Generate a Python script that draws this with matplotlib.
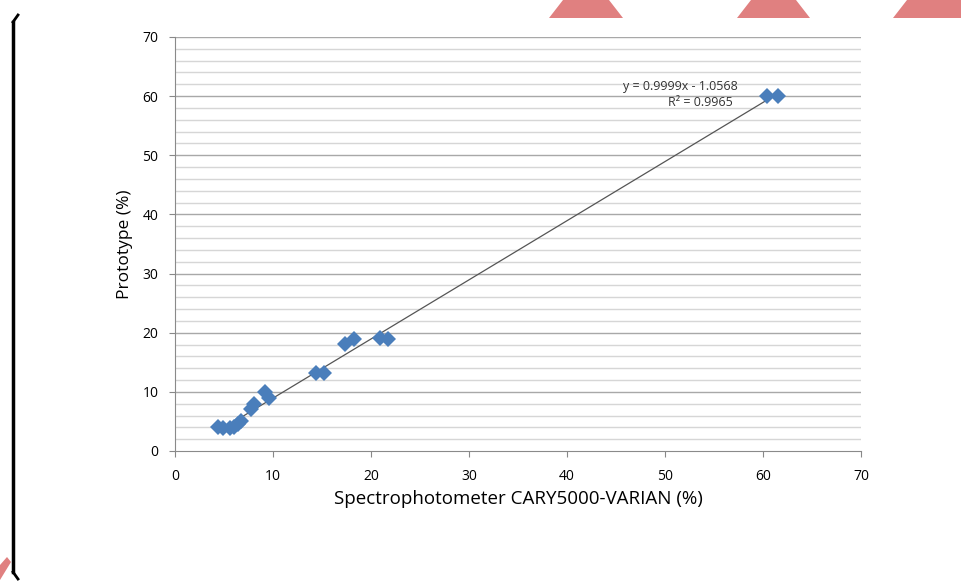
import numpy as np
import matplotlib.pyplot as plt
from matplotlib.patches import Polygon
from matplotlib.lines import Line2D

# Data
cary = [4.4, 4.9, 5.6, 6.0, 6.4, 6.7, 7.8, 8.1, 9.2, 9.6,
        14.4, 15.2, 17.3, 18.3, 20.9, 21.7, 60.4, 61.5]
proto = [4.0, 3.9, 3.9, 4.0, 4.6, 5.1, 7.1, 7.9, 10.0, 9.0,
         13.2, 13.2, 18.1, 18.9, 19.1, 18.9, 60.0, 60.0]
slope = 0.9999
intercept = -1.0568
r2 = 0.9965
ticks = [0, 10, 20, 30, 40, 50, 60, 70]

plt.rcParams['font.family'] = ['Open Sans', 'DejaVu Sans']

fig = plt.figure(figsize=(9.62, 5.82), dpi=100)
ax = fig.add_axes([175/962, 131/582, 686/962, 414/582])

# gridlines
for v in np.arange(2, 70, 2):
    if v % 10:
        ax.axhline(v, color='#d6d6d6', lw=1.0, zorder=0)
for v in ticks[1:]:
    ax.axhline(v, color='#a8a8a8', lw=1.0, zorder=0)

# trendline
xl = np.array([min(cary), max(cary)])
ax.plot(xl, slope * xl + intercept, color='#555555', lw=0.9, zorder=2)

ax.plot(cary, proto, 'D', color='#4a7ebb', markersize=8, markeredgewidth=0, zorder=3)

ax.text(57.4, 61.7, 'y = 0.9999x - 1.0568', ha='right', va='center', fontsize=9, color='#333333')
ax.text(56.9, 59.0, 'R² = %.4f' % r2, ha='right', va='center', fontsize=9, color='#333333')

ax.set_xlim(0, 70)
ax.set_ylim(0, 70)
ax.set_xticks(ticks)
ax.set_yticks(ticks)
ax.tick_params(labelsize=10, length=4, color='#888888')
ax.tick_params(axis='x', pad=9)
ax.tick_params(axis='y', pad=8)
for s in ['top', 'right']:
    ax.spines[s].set_visible(False)
for s in ['left', 'bottom']:
    ax.spines[s].set_color('#8a8a8a')
ax.set_xlabel('Spectrophotometer CARY5000-VARIAN (%)', fontsize=13.5, labelpad=4)
ax.set_ylabel('Prototype (%)', fontsize=12.5, labelpad=7)

# bracket on the left edge
fig.add_artist(Line2D([13/962, 13/962], [1 - 22/582, 1 - 572/582], color='black', lw=2.5))
fig.add_artist(Line2D([13/962, 18/962], [1 - 22/582, 1 - 15/582], color='black', lw=2.0))
fig.add_artist(Line2D([13/962, 18/962], [1 - 572/582, 1 - 579/582], color='black', lw=2.0))

# red watermark shapes
red = '#e08080'
for x0, x1 in [(549, 623), (737, 810), (893, 975)]:
    pts = [(x0, 18), (x1, 18), (x1 - 14, 0), (x0 + 14, 0)]
    fig.add_artist(Polygon([(x / 962, 1 - y / 582) for x, y in pts], closed=True,
                           color=red, lw=0, transform=fig.transFigure))
pts = [(0, 565), (7, 557), (11, 562), (0, 580)]
fig.add_artist(Polygon([(x / 962, 1 - y / 582) for x, y in pts], closed=True,
                       color=red, lw=0, transform=fig.transFigure))

fig.savefig('out.png', dpi=100)
